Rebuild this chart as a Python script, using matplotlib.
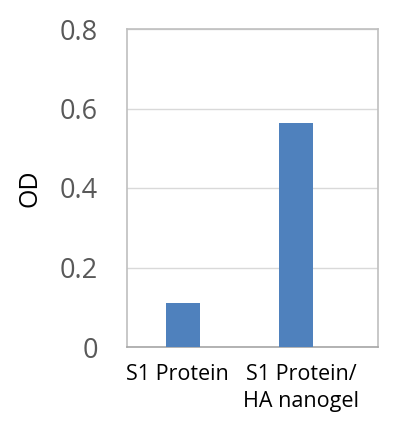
import matplotlib
matplotlib.use("Agg")
import matplotlib.pyplot as plt
from matplotlib.transforms import ScaledTranslation

categories = ["S1 Protein", "S1 Protein/\nHA nanogel"]
values = [0.111, 0.563]
yticks = [0, 0.2, 0.4, 0.6, 0.8]
ytick_labels = ["0", "0.2", "0.4", "0.6", "0.8"]

plt.rcParams['font.family'] = ['Open Sans', 'DejaVu Sans']

fig = plt.figure(figsize=(3.98, 4.26), dpi=100)
W, H = 398, 426
left, right, top, bottom = 127, 378, 29, 347
ax = fig.add_axes([left / W, 1 - bottom / H, (right - left) / W, (bottom - top) / H])

x = list(range(len(categories)))
ax.bar(x, values, width=0.305, color="#4F81BD", zorder=3)
ax.set_xlim(-0.496, 1.726)
ax.set_ylim(0, 0.8)
ax.set_yticks(yticks)
ax.set_yticklabels(ytick_labels, fontsize=19.5, color="#595959")
ax.set_xticks(x)
ax.set_xticklabels(categories, fontsize=15.5, color="black", linespacing=1.4, va="top")
ax.tick_params(axis="both", length=0)
ax.tick_params(axis="y", pad=21)
ax.tick_params(axis="x", pad=12)
for lbl, dx in zip(ax.get_xticklabels(), [-6, 5]):
    lbl.set_transform(lbl.get_transform() + ScaledTranslation(dx / 100, 0, fig.dpi_scale_trans))
ax.grid(axis="y", color="#D9D9D9", linewidth=1.0, zorder=0)
for s in ax.spines.values():
    s.set_color("#BFBFBF")
    s.set_linewidth(1.2)
ax.spines["bottom"].set_color("#A6A6A6")
ax.set_ylabel("OD", fontsize=18, color="black", labelpad=12)

fig.savefig("out.png", dpi=100)
